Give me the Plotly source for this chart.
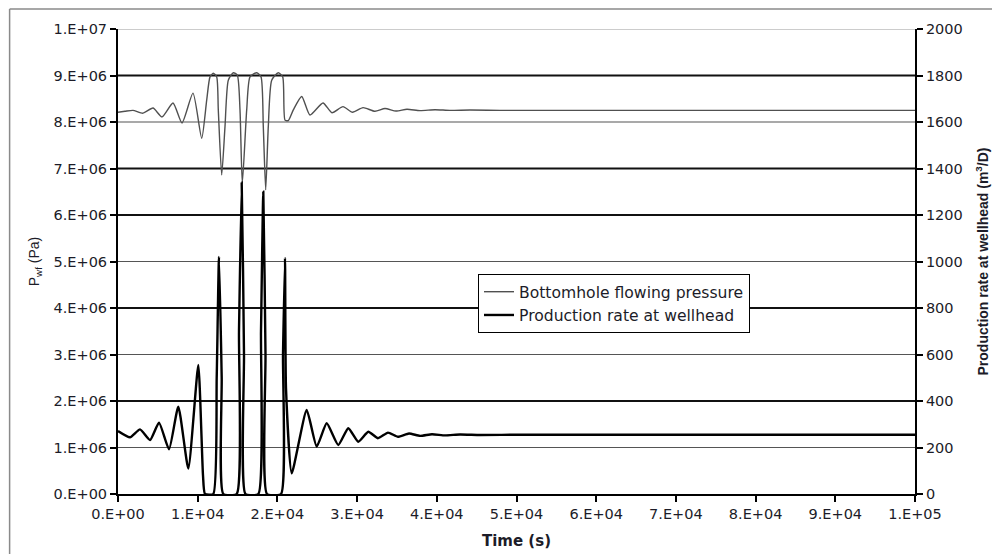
import plotly.graph_objects as go

# ---- data ----
time_p = [0, 878, 1882, 3137, 4391, 5521, 6901, 8030, 9410, 10502, 11129, 11543, 11957,
          12384, 12585, 13011, 13425, 13839, 14467, 14969, 15307, 15596, 16148, 16562,
          17403, 17943, 18231, 18532, 18858, 19285, 20113, 20665, 20954, 21368, 21995,
          23049, 24090, 25721, 26851, 28231, 29423, 30740, 32245, 33500, 34881, 36261,
          37892, 39774, 41656, 44165, 47930, 100000]
pressure_pa = [8.21e6, 8.23e6, 8.25e6, 8.19e6, 8.30e6, 8.11e6, 8.41e6, 7.98e6, 8.62e6, 7.65e6,
               8.47e6, 8.97e6, 9.05e6, 8.97e6, 8.26e6, 6.86e6, 7.90e6, 8.90e6, 9.06e6, 9.01e6,
               8.26e6, 6.68e6, 8.26e6, 8.97e6, 9.06e6, 8.97e6, 7.90e6, 6.54e6, 7.90e6, 8.90e6,
               9.06e6, 8.97e6, 8.04e6, 8.03e6, 8.26e6, 8.55e6, 8.15e6, 8.41e6, 8.20e6, 8.33e6,
               8.21e6, 8.31e6, 8.23e6, 8.29e6, 8.235e6, 8.275e6, 8.245e6, 8.265e6, 8.25e6,
               8.258e6, 8.25e6, 8.25e6]

time_q = [0, 1506, 2760, 4015, 5144, 6399, 7566, 8821, 10075, 10665, 10916, 11957, 12384,
          12672, 13011, 13212, 14893, 15182, 15521, 15809, 15997, 17603, 17942, 18231,
          18507, 18695, 20452, 20703, 20954, 21079, 21794, 23676, 24931, 26186, 27641,
          28896, 30150, 31405, 32622, 33877, 35132, 36512, 37892, 39398, 41029, 42911,
          45420, 50439, 100000]
rate_m3d = [271, 244, 278, 232, 307, 192, 376, 110, 555, 80, 0, 0, 500, 1020, 500, 0, 0, 700,
            1340, 600, 0, 0, 700, 1300, 600, 0, 0, 600, 1015, 455, 89, 361, 204, 304, 211,
            283, 225, 268, 240, 264, 246, 260, 250, 257, 252, 256, 254, 255, 255]

x_ticks = [0, 1e4, 2e4, 3e4, 4e4, 5e4, 6e4, 7e4, 8e4, 9e4, 1e5]
x_labels = ["0.E+00", "1.E+04", "2.E+04", "3.E+04", "4.E+04", "5.E+04",
            "6.E+04", "7.E+04", "8.E+04", "9.E+04", "1.E+05"]
y_ticks = [0, 1e6, 2e6, 3e6, 4e6, 5e6, 6e6, 7e6, 8e6, 9e6, 1e7]
y_labels = ["0.E+00", "1.E+06", "2.E+06", "3.E+06", "4.E+06", "5.E+06",
            "6.E+06", "7.E+06", "8.E+06", "9.E+06", "1.E+07"]
y2_ticks = [0, 200, 400, 600, 800, 1000, 1200, 1400, 1600, 1800, 2000]

# gridline appearance (heavy/light as rendered in the reference)
grid_heavy = [2e6, 4e6, 6e6, 7e6, 9e6]
grid_light = [1e6, 3e6, 5e6, 8e6]
grid_top = [1e7]

TICK_FONT = dict(family="DejaVu Sans", size=14.5, color="#1c1c28")

fig = go.Figure()
fig.add_trace(go.Scatter(
    x=time_p, y=pressure_pa, name="Bottomhole flowing pressure", mode="lines",
    line=dict(color="#505050", width=1.4, shape="spline", smoothing=0.6), yaxis="y"))
fig.add_trace(go.Scatter(
    x=time_q, y=rate_m3d, name="Production rate at wellhead", mode="lines",
    line=dict(color="#000000", width=2.4, shape="spline", smoothing=0.5), yaxis="y2"))

shapes = []
for v in grid_heavy:
    shapes.append(dict(type="line", xref="paper", yref="y", x0=0, x1=1, y0=v, y1=v,
                       line=dict(color="#111111", width=2), layer="below"))
for v in grid_light:
    shapes.append(dict(type="line", xref="paper", yref="y", x0=0, x1=1, y0=v, y1=v,
                       line=dict(color="#555555", width=1.2), layer="below"))
for v in grid_top:
    shapes.append(dict(type="line", xref="paper", yref="y", x0=0, x1=1, y0=v, y1=v,
                       line=dict(color="#999999", width=1), layer="below"))
# outer frame (top and left edges)
shapes.append(dict(type="line", xref="paper", yref="paper", x0=-0.136, x1=1.11,
                   y0=1.043, y1=1.043, line=dict(color="#8a8a8a", width=1.5)))
shapes.append(dict(type="line", xref="paper", yref="paper", x0=-0.136, x1=-0.136,
                   y0=1.043, y1=-0.13, line=dict(color="#8a8a8a", width=1.5)))

fig.update_layout(
    width=992, height=546,
    margin=dict(l=110, r=85, t=21, b=60),
    paper_bgcolor="white", plot_bgcolor="white",
    shapes=shapes,
    showlegend=True,
    legend=dict(x=0.4517, y=0.473, xanchor="left", yanchor="top",
                bgcolor="white", bordercolor="#000000", borderwidth=1,
                font=dict(family="DejaVu Sans", size=15.6, color="#1c1c28"),
                tracegroupgap=0),
    xaxis=dict(range=[0, 1e5], tickvals=x_ticks, ticktext=x_labels,
               ticks="outside", ticklen=6, tickwidth=2, tickcolor="#000",
               showline=True, linecolor="#000", linewidth=2,
               showgrid=False, zeroline=False, tickfont=TICK_FONT, automargin=False,
               title=dict(text="<b>Time (s)</b>", standoff=14,
                          font=dict(family="DejaVu Sans", size=15, color="#1c1c28"))),
    yaxis=dict(range=[0, 1e7], tickvals=y_ticks, ticktext=y_labels,
               ticks="outside", ticklen=6, tickwidth=2, tickcolor="#000",
               showline=True, linecolor="#000", linewidth=2,
               showgrid=False, zeroline=False, tickfont=TICK_FONT, automargin=False,
               title=dict(text="P<sub>wf</sub> (Pa)", standoff=11,
                          font=dict(family="Liberation Sans", size=14, color="#1c1c28"))),
    yaxis2=dict(range=[0, 2000], tickvals=y2_ticks, overlaying="y", side="right",
                ticks="outside", ticklen=6, tickwidth=2, tickcolor="#000",
                showline=True, linecolor="#000", linewidth=2,
                showgrid=False, zeroline=False, tickfont=TICK_FONT, automargin=False,
                title=dict(text="<b>Production rate at wellhead (m<sup>3</sup>/D)</b>", standoff=16,
                           font=dict(family="Liberation Sans", size=14, color="#1c1c28"))),
)

fig.write_html("out.html")
